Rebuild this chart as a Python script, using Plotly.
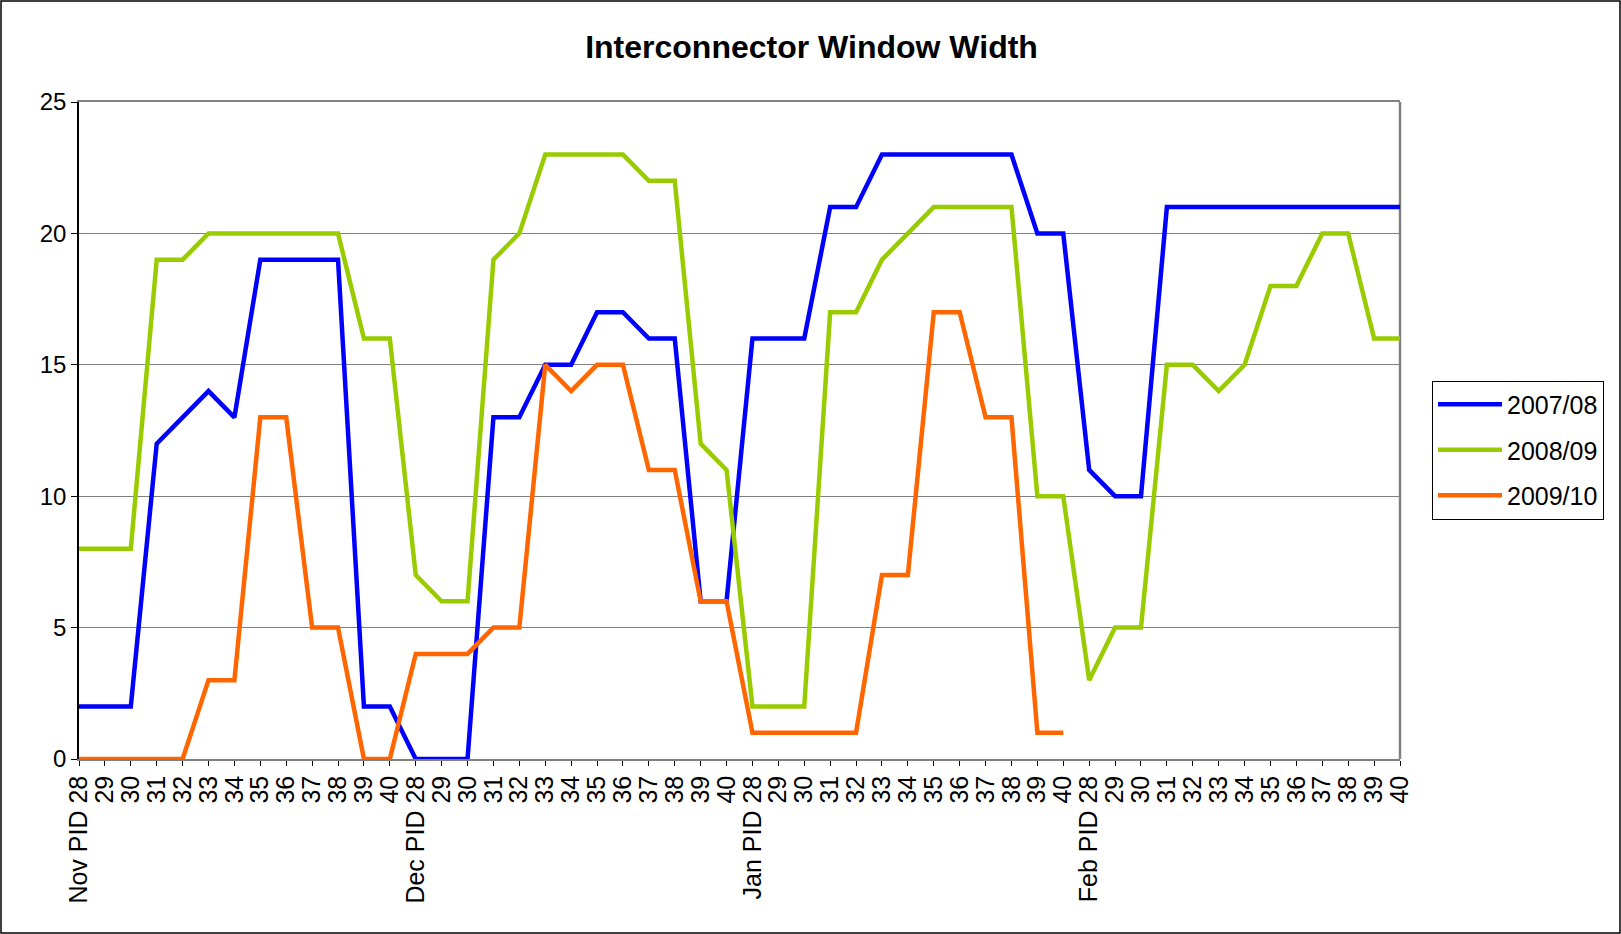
import plotly.graph_objects as go

months = ["Nov", "Dec", "Jan", "Feb"]
pids = list(range(28, 41))

tick_labels = []
for m in months:
    for p in pids:
        tick_labels.append(f"{m} PID {p}" if p == 28 else str(p))

s2007 = [2, 2, 2, 12, 13, 14, 13, 19, 19, 19, 19, 2, 2,
         0, 0, 0, 13, 13, 15, 15, 17, 17, 16, 16, 6, 6,
         16, 16, 16, 21, 21, 23, 23, 23, 23, 23, 23, 20, 20,
         11, 10, 10, 21, 21, 21, 21, 21, 21, 21, 21, 21, 21]
s2008 = [8, 8, 8, 19, 19, 20, 20, 20, 20, 20, 20, 16, 16,
         7, 6, 6, 19, 20, 23, 23, 23, 23, 22, 22, 12, 11,
         2, 2, 2, 17, 17, 19, 20, 21, 21, 21, 21, 10, 10,
         3, 5, 5, 15, 15, 14, 15, 18, 18, 20, 20, 16, 16]
s2009 = [0, 0, 0, 0, 0, 3, 3, 13, 13, 5, 5, 0, 0,
         4, 4, 4, 5, 5, 15, 14, 15, 15, 11, 11, 6, 6,
         1, 1, 1, 1, 1, 7, 7, 17, 17, 13, 13, 1, 1]

series = [("2007/08", s2007, "#0000FF"),
          ("2008/09", s2008, "#99CC00"),
          ("2009/10", s2009, "#FF6600")]

W, H = 1621, 934
ml, mr, mt, mb = 79, 221, 102, 175
pw, ph = W - ml - mr, H - mt - mb

fig = go.Figure()
for name, vals, col in series:
    fig.add_trace(go.Scatter(
        x=list(range(len(vals))), y=vals, mode="lines", name=name,
        legendgroup=name,
        line=dict(color=col, width=4.5)))

fig.update_layout(
    width=W, height=H,
    margin=dict(l=ml, r=mr, t=mt, b=mb),
    paper_bgcolor="white", plot_bgcolor="white",
    font=dict(family="Arial, Liberation Sans, sans-serif", color="black", size=25),
    title=dict(text="<b>Interconnector Window Width</b>", x=(785*W/1568)/W, xanchor="center",
               y=1 - 46.5/H, yanchor="middle", yref="container",
               font=dict(size=32, color="black")),
    showlegend=True,
    legend=dict(x=(1432 - ml)/pw, xanchor="left", y=(759 - 450)/ph, yanchor="middle",
                bordercolor="black", borderwidth=1, bgcolor="white",
                font=dict(size=25), itemwidth=64, tracegroupgap=10),
    xaxis=dict(range=[0, len(tick_labels) - 1],
               tickmode="array", tickvals=list(range(len(tick_labels))), ticktext=tick_labels,
               tickangle=-90, ticks="outside", ticklen=5, tickcolor="black",
               showgrid=False, showline=True, linecolor="#808080", linewidth=1.5, mirror=True,
               zeroline=False, tickfont=dict(size=25)),
    yaxis=dict(range=[0, 25], dtick=5, ticks="outside", ticklen=6, tickcolor="black",
               showgrid=True, gridcolor="#808080", gridwidth=1,
               showline=True, linecolor="black", linewidth=1.5, mirror=False,
               zeroline=False, tickfont=dict(size=24)),
    shapes=[dict(type="rect", xref="paper", yref="paper",
                 x0=-(ml - 1)/pw, x1=(W - ml - 1)/pw, y0=-(mb - 1)/ph, y1=(H - mb - 1)/ph,
                 line=dict(color="black", width=1.5), fillcolor="rgba(0,0,0,0)", layer="above"),
            dict(type="line", xref="paper", yref="paper", x0=1, x1=1, y0=0, y1=1,
                 line=dict(color="#808080", width=2.5), layer="below")],
)

fig.write_html("out.html", config={"displayModeBar": False},
               post_script="document.body.style.margin='0';document.body.style.overflow='hidden';")
